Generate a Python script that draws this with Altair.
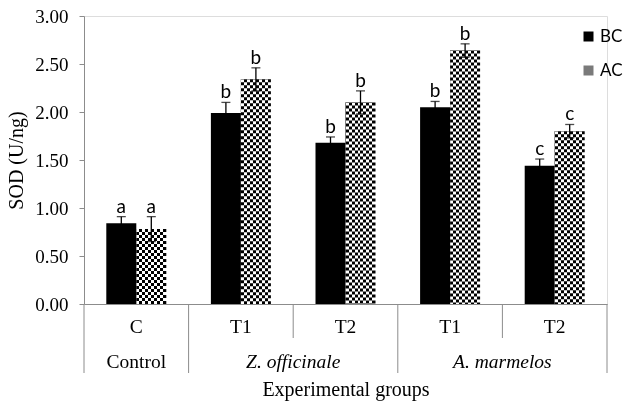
import altair as alt
import pandas as pd

# ---------------- data ----------------
keys = ["C", "Z-T1", "Z-T2", "A-T1", "A-T2"]
sub_labels = ["C", "T1", "T2", "T1", "T2"]
groups = ["Control", "Z. officinale", "A. marmelos"]
group_span = [1, 2, 2]
group_italic = [False, True, True]
series = ["BC", "AC"]

bc_values = [0.84, 1.99, 1.68, 2.05, 1.44]
ac_values = [0.78, 2.34, 2.10, 2.64, 1.80]
bc_err = [0.07, 0.11, 0.06, 0.06, 0.07]
ac_err = [0.13, 0.12, 0.12, 0.07, 0.07]
bc_letters = ["a", "b", "b", "b", "c"]
ac_letters = ["a", "b", "b", "b", "c"]

y_ticks = [0, 0.5, 1.0, 1.5, 2.0, 2.5, 3.0]

# ---------------- tables ----------------
rows = []
for s, vals, errs, lets in [("BC", bc_values, bc_err, bc_letters),
                            ("AC", ac_values, ac_err, ac_letters)]:
    for k, v, e, l in zip(keys, vals, errs, lets):
        rows.append({"key": k, "series": s, "value": v, "err": e,
                     "lo": v - e, "hi": v + e, "letter": l})
df = pd.DataFrame(rows)

n = len(keys)
bounds = [0]
for sp in group_span:
    bounds.append(bounds[-1] + sp)
group_bounds = set(bounds)
div_df = pd.DataFrame({"pos": list(range(n + 1)),
                       "long": [i in group_bounds for i in range(n + 1)]})
sub_df = pd.DataFrame({"pos": [i + 0.5 for i in range(n)], "label": sub_labels})
grp_df = pd.DataFrame({
    "pos": [(bounds[i] + bounds[i + 1]) / 2 for i in range(len(groups))],
    "label": groups,
    "italic": group_italic,
})

# ---------------- style ----------------
W, H = 523, 288
SERIF = "Liberation Serif"
SANS = "Lato"
GRAY = "#8c8c8c"
BAR_W = 30
CELL = 3

stops = []
ncell = BAR_W // CELL
for i in range(ncell):
    c = "black" if i % 2 == 0 else "white"
    stops.append(alt.GradientStop(color=c, offset=i / ncell))
    stops.append(alt.GradientStop(color=c, offset=(i + 1) / ncell))
checker_fill = alt.LinearGradient(gradient="linear", stops=stops,
                                  x1=0, x2=1, y1=0, y2=0)

pin = 1 - (BAR_W * 2) / (W / n)
x_enc = alt.X("key:N", sort=keys,
              scale=alt.Scale(domain=keys, paddingInner=pin, paddingOuter=pin / 2),
              axis=alt.Axis(title="Experimental groups", labels=False, ticks=False,
                            domainColor=GRAY, domainWidth=1,
                            titleFont=SERIF, titleFontSize=20,
                            titleFontWeight="normal", titleColor="black",
                            titlePadding=75))
xo_enc = alt.XOffset("series:N",
                     scale=alt.Scale(domain=series, paddingInner=0, paddingOuter=0))

y_axis = alt.Axis(values=y_ticks, format=".2f", grid=False,
                  title="SOD (U/ng)", titleFont=SERIF, titleFontSize=20,
                  titleFontWeight="normal", titleColor="black", titlePadding=8,
                  labelFont=SERIF, labelFontSize=19, labelColor="black",
                  labelPadding=11, tickSize=5, tickColor=GRAY, domainColor=GRAY)
y_scale = alt.Scale(domain=[0, 3], nice=False)


def yenc(field):
    return alt.Y(f"{field}:Q", scale=y_scale, axis=y_axis, title="SOD (U/ng)")


base = alt.Chart(df)

bc_bars = base.transform_filter(alt.datum.series == "BC").mark_bar(
    strokeWidth=0).encode(
    x=x_enc, xOffset=xo_enc, y=yenc("value"),
    color=alt.Color("series:N",
                    scale=alt.Scale(domain=series, range=["black", "#7a7a7a"]),
                    legend=alt.Legend(orient="none", legendX=496, legendY=12,
                                      title=None, symbolType="square",
                                      symbolSize=100, symbolStrokeWidth=0,
                                      labelFont=SANS, labelFontSize=17,
                                      labelColor="black", rowPadding=16,
                                      labelOffset=3, padding=0)),
)

ac_bars = base.transform_filter(alt.datum.series == "AC").mark_bar(
    fill=checker_fill, strokeWidth=0).encode(
    x=x_enc, xOffset=xo_enc, y=yenc("value"),
)

ac_checker = base.transform_filter(alt.datum.series == "AC").mark_rule(
    stroke="white", strokeWidth=BAR_W, strokeDash=[CELL, CELL],
    strokeCap="butt", blend="difference").encode(
    x=x_enc, xOffset=xo_enc, y=yenc("value"), y2=alt.datum(0),
)

err_rule = base.mark_rule(color="black", strokeWidth=1.3).encode(
    x=x_enc, xOffset=xo_enc, y=yenc("lo"), y2="hi:Q")
cap_hi = base.mark_tick(color="black", size=9, thickness=1.3).encode(
    x=x_enc, xOffset=xo_enc, y=yenc("hi"))
cap_lo = base.mark_tick(color="black", size=9, thickness=1.3).encode(
    x=x_enc, xOffset=xo_enc, y=yenc("lo"))

letters = base.mark_text(font=SANS, fontSize=19, baseline="alphabetic",
                         dy=-4, color="black").encode(
    x=x_enc, xOffset=xo_enc, y=yenc("hi"), text="letter:N")

main = alt.layer(bc_bars, ac_bars, ac_checker, err_rule, cap_hi, cap_lo, letters)

xq = alt.X("pos:Q", scale=alt.Scale(domain=[0, n], nice=False, zero=False), axis=None)

div_long = alt.Chart(div_df).transform_filter(alt.datum.long).mark_rule(
    color=GRAY, strokeWidth=1).encode(x=xq, y=alt.value(H), y2=alt.value(H + 69))
div_short = alt.Chart(div_df).transform_filter(~alt.datum.long).mark_rule(
    color=GRAY, strokeWidth=1).encode(x=xq, y=alt.value(H), y2=alt.value(H + 34))
sub_text = alt.Chart(sub_df).mark_text(font=SERIF, fontSize=19.5, color="black",
                                       baseline="middle").encode(
    x=xq, y=alt.value(H + 23), text="label:N")
grp_plain = alt.Chart(grp_df).transform_filter(~alt.datum.italic).mark_text(
    font=SERIF, fontSize=19.5, color="black", baseline="middle").encode(
    x=xq, y=alt.value(H + 58), text="label:N")
grp_ital = alt.Chart(grp_df).transform_filter(alt.datum.italic).mark_text(
    font=SERIF, fontSize=19.5, color="black", baseline="middle",
    fontStyle="italic").encode(
    x=xq, y=alt.value(H + 58), text="label:N")

deco = alt.layer(div_long, div_short, sub_text, grp_plain, grp_ital)

chart = alt.layer(main, deco).resolve_scale(x="independent").properties(
    width=W, height=H,
    padding={"left": 84, "top": 16, "right": 18, "bottom": 97},
    autosize=alt.AutoSizeParams(type="none"),
).configure_view(stroke=None).configure(background="white")

chart.save("out.html", embed_options={"renderer": "svg", "actions": False})
